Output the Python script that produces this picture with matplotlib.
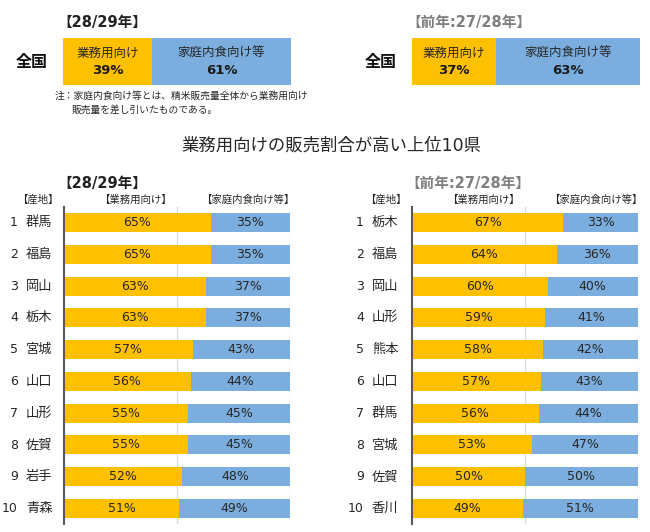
import matplotlib
matplotlib.use('Agg')
import matplotlib.pyplot as plt

plt.rcParams['font.family'] = ['DejaVu Sans', 'Noto Sans CJK JP']

# data
nat_labels = ['業務用向け', '家庭内食向け等']
nat_now = [39, 61]
nat_prev = [37, 63]

left_prefs = ['群馬', '福島', '岡山', '栃木', '宮城', '山口', '山形', '佐賀', '岩手', '青森']
left_biz = [65, 65, 63, 63, 57, 56, 55, 55, 52, 51]
left_home = [35, 35, 37, 37, 43, 44, 45, 45, 48, 49]

right_prefs = ['栃木', '福島', '岡山', '山形', '熊本', '山口', '群馬', '宮城', '佐賀', '香川']
right_biz = [67, 64, 60, 59, 58, 57, 56, 53, 50, 49]
right_home = [33, 36, 40, 41, 42, 43, 44, 47, 50, 51]

W, H = 650, 532
YEL = '#FFC000'
BLU = '#7BAEDE'
TXT = '#262626'
GRAY = '#7F7F7F'

fig = plt.figure(figsize=(W / 100, H / 100), dpi=100)


def px(x, y):
    return x / W, 1 - y / H


def ftext(x, y, s, **kw):
    fx, fy = px(x, y)
    kw.setdefault('ha', 'center')
    kw.setdefault('va', 'center')
    fig.text(fx, fy, s, **kw)


def add_ax(x0, y0, x1, y1):
    return fig.add_axes([x0 / W, 1 - y1 / H, (x1 - x0) / W, (y1 - y0) / H])


# national bars
def national(x0, vals, title, tcolor):
    ax = add_ax(x0, 38, x0 + 228, 85)
    ax.barh([0], [vals[0]], height=1, color=YEL, left=0)
    ax.barh([0], [vals[1]], height=1, color=BLU, left=vals[0])
    ax.set_xlim(0, 100)
    ax.set_ylim(-0.5, 0.5)
    ax.axis('off')
    starts = [0, vals[0]]
    for lab, v, s in zip(nat_labels, vals, starts):
        ax.text(s + v / 2, 0.17, lab, ha='center', va='center', fontsize=9, color=TXT)
        ax.text(s + v / 2, -0.2, f'{v}%', ha='center', va='center', fontsize=9.5,
                fontweight='bold', color='#1a1a1a')
    ftext(x0 - 31, 62, '全国', fontsize=11.5, fontweight='bold', color='#111111')
    ftext(x0 - 6, 22, title, fontsize=10.5, fontweight='bold', color=tcolor, ha='left')


national(63, nat_now, '【28/29年】', '#222222')
national(412, nat_prev, '【前年:27/28年】', GRAY)

ftext(55, 96, '注：家庭内食向け等とは、精米販売量全体から業務用向け', fontsize=7, ha='left', color=TXT)
ftext(72, 110, '販売量を差し引いたものである。', fontsize=7, ha='left', color=TXT)

ftext(331, 146, '業務用向けの販売割合が高い上位10県', fontsize=12.5, color=TXT)


# ranking charts
def ranking(x0, prefs, biz, home, title, tcolor, numx, namex):
    ax = add_ax(x0, 206.6, x0 + 226, 524.4)
    rows = list(range(len(prefs)))
    for g in (50, 100):
        ax.axvline(g, color='#D9D9D9', lw=0.9, zorder=0)
    ax.barh(rows, biz, height=0.6, color=YEL, zorder=2)
    ax.barh(rows, home, height=0.6, left=biz, color=BLU, zorder=2)
    for r, b, h in zip(rows, biz, home):
        ax.text(b / 2, r, f'{b}%', ha='center', va='center', fontsize=9, color=TXT, zorder=3)
        ax.text(b + h / 2, r, f'{h}%', ha='center', va='center', fontsize=9, color=TXT, zorder=3)
    ax.set_xlim(0, 100)
    ax.set_ylim(len(prefs) - 0.5, -0.5)
    for s in ('top', 'right', 'bottom'):
        ax.spines[s].set_visible(False)
    ax.spines['left'].set_color('#595959')
    ax.spines['left'].set_linewidth(1.5)
    ax.set_xticks([])
    ax.set_yticks([])
    # row labels
    for r, p in enumerate(prefs):
        yy = 222.5 + r * 31.8
        ftext(numx, yy, str(r + 1), fontsize=9, ha='right', color=TXT)
        ftext(namex, yy, p, fontsize=9.5, ha='left', color=TXT)
    ftext(x0 - 7, 183, title, fontsize=10.5, fontweight='bold', color=tcolor, ha='left')
    ftext(x0 - 26, 200, '【産地】', fontsize=7.5, color=TXT)
    ftext(x0 + 71, 200, '【業務用向け】', fontsize=7.5, color=TXT)
    ftext(x0 + 184, 200, '【家庭内食向け等】', fontsize=7.5, color=TXT)


ranking(64, left_prefs, left_biz, left_home, '【28/29年】', '#222222', 18, 26)
ranking(412, right_prefs, right_biz, right_home, '【前年:27/28年】', GRAY, 364, 372)

fig.savefig('out.png', dpi=100)
